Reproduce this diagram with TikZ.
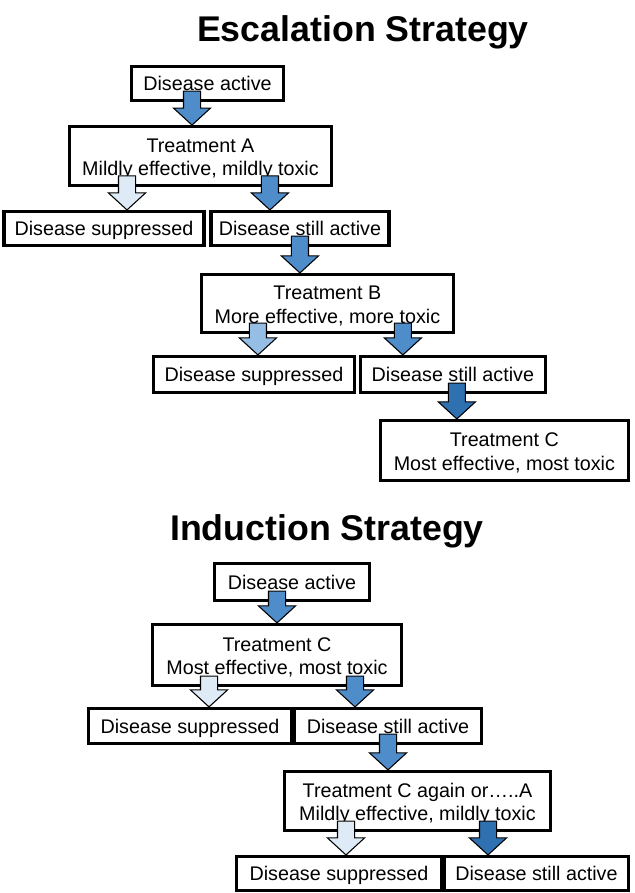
\documentclass[tikz,border=0pt]{standalone}
\usepackage{fontspec}
\setmainfont{Liberation Sans}
\usepackage{tikz}
\usetikzlibrary{calc}
\usetikzlibrary{positioning}
\definecolor{arrowmid}{RGB}{78,140,202}
\definecolor{arrowpale}{RGB}{222,235,247}
\definecolor{arrowlight}{RGB}{150,190,228}
\definecolor{arrowdark}{RGB}{46,112,176}
\tikzset{
    state/.style={
           rectangle,
           draw=black, line width=2.4pt,
           fill=white,
           minimum height=25.5pt,
           inner sep=2pt,
           text centered,
           font=\fontsize{14.8}{17.6}\selectfont,
           },
    outcome/.style={state, text height=10.6pt, text depth=0pt},
    treatment/.style={state, minimum height=44pt},
    heading/.style={font=\fontsize{26.8}{30}\selectfont\bfseries,
           text height=19.2pt, text depth=0pt, inner sep=0pt},
    blockarr/.style={draw=black, line width=0.8pt, line join=miter},
}
% block arrow: fill, from node, to node, x offset from the source centre
\newcommand{\blockarrow}[4]{%
    \draw[blockarr, fill=#1] let \p1=($(#2.south)+(#4,0)$), \p2=(#3.north) in
        (\x1-6.4pt,\y1+8.25pt) -- (\x1+6.4pt,\y1+8.25pt) -- (\x1+6.4pt,\y2+12.75pt)
        -- (\x1+13.9pt,\y2+12.75pt) -- (\x1,\y2) -- (\x1-13.9pt,\y2+12.75pt)
        -- (\x1-6.4pt,\y2+12.75pt) -- cycle;}
% two lines of a treatment box, lowered a little (box size kept)
\newcommand{\twolines}[2]{\raisebox{-2.6pt}[\height][\depth]{\begin{tabular}{@{}c@{}}#1\\#2\end{tabular}}}

\begin{document}
\begin{tikzpicture}
        \useasboundingbox (0,0) rectangle (476.25pt,-669.75pt);

        % ESCALATION STRATEGY
        \node[heading] (ESC_TITLE) at (272.2pt,-21.75pt) {Escalation Strategy};

        \node[outcome, minimum width=114pt] (ESC_ACTIVE) at (155.6pt,-62.6pt)
        {Disease active};

        % TREATMENT A
        \node[treatment,
            minimum width=196.5pt,
            below of=ESC_ACTIVE,
            node distance=54.4pt,
            xshift=-5.25pt,
            anchor=center] (ESC_TREAT_A)
        {\twolines{Treatment A}{Mildly effective, mildly toxic}};

        \node[outcome, minimum width=150pt,
            below of=ESC_TREAT_A, node distance=54.4pt,
            xshift=-72.4pt, anchor=center] (ESC_SUPP_A)
        {Disease suppressed};
        \node[outcome, minimum width=133.5pt,
            below of=ESC_TREAT_A, node distance=54.4pt,
            xshift=74.6pt, anchor=center] (ESC_STILL_A)
        {Disease still active};

        % TREATMENT B
        \node[treatment,
            minimum width=189pt,
            minimum height=43.5pt,
            below of=ESC_STILL_A,
            node distance=56.25pt,
            xshift=20.6pt,
            anchor=center] (ESC_TREAT_B)
        {\twolines{Treatment B}{More effective, more toxic}};

        \node[outcome, minimum width=150.75pt, minimum height=27pt,
            below of=ESC_TREAT_B, node distance=53.25pt,
            xshift=-55.1pt, anchor=center] (ESC_SUPP_B)
        {Disease suppressed};
        \node[outcome, minimum width=138.75pt, minimum height=27pt,
            below of=ESC_TREAT_B, node distance=53.25pt,
            xshift=94.1pt, anchor=center] (ESC_STILL_B)
        {Disease still active};

        % TREATMENT C
        \node[treatment,
            minimum width=186pt,
            minimum height=45pt,
            below of=ESC_STILL_B,
            node distance=57pt,
            xshift=38.6pt,
            anchor=center] (ESC_TREAT_C)
        {\twolines{Treatment C}{Most effective, most toxic}};

        % INDUCTION STRATEGY
        \node[heading] (IND_TITLE) at (245.25pt,-395.6pt) {Induction Strategy};

        \node[outcome, minimum width=116.25pt, minimum height=27.75pt]
            (IND_ACTIVE) at (219pt,-436.5pt)
        {Disease active};

        % TREATMENT C FIRST
        \node[treatment,
            minimum width=186.75pt,
            minimum height=45.75pt,
            below of=IND_ACTIVE,
            node distance=54.75pt,
            xshift=-11.25pt,
            anchor=center] (IND_TREAT_C)
        {\twolines{Treatment C}{Most effective, most toxic}};

        \node[outcome, minimum width=152.25pt, minimum height=26.25pt,
            below of=IND_TREAT_C, node distance=53.25pt,
            xshift=-65.25pt, anchor=center] (IND_SUPP_C)
        {Disease suppressed};
        \node[outcome, minimum width=140.25pt, minimum height=26.25pt,
            below of=IND_TREAT_C, node distance=53.25pt,
            xshift=83.25pt, anchor=center] (IND_STILL_C)
        {Disease still active};

        % TREATMENT C AGAIN OR A
        \node[treatment,
            minimum width=199.5pt,
            minimum height=44.25pt,
            below of=IND_STILL_C,
            node distance=56.25pt,
            xshift=22.1pt,
            anchor=center] (IND_TREAT_CA)
        {\twolines{Treatment C again or…..A}{Mildly effective, mildly toxic}};

        \node[outcome, minimum width=153.75pt,
            below of=IND_TREAT_CA, node distance=54.4pt,
            xshift=-58.9pt, anchor=center] (IND_SUPP_CA)
        {Disease suppressed};
        \node[outcome, minimum width=138pt,
            below of=IND_TREAT_CA, node distance=54.4pt,
            xshift=89.25pt, anchor=center] (IND_STILL_CA)
        {Disease still active};

        % block arrows on top of the boxes
        \blockarrow{arrowmid}{ESC_ACTIVE}{ESC_TREAT_A}{-11.6pt}
        \blockarrow{arrowpale}{ESC_TREAT_A}{ESC_SUPP_A}{-55.1pt}
        \blockarrow{arrowmid}{ESC_TREAT_A}{ESC_STILL_A}{52.1pt}
        \blockarrow{arrowmid}{ESC_STILL_A}{ESC_TREAT_B}{0pt}
        \blockarrow{arrowlight}{ESC_TREAT_B}{ESC_SUPP_B}{-52.1pt}
        \blockarrow{arrowmid}{ESC_TREAT_B}{ESC_STILL_B}{56.6pt}
        \blockarrow{arrowdark}{ESC_STILL_B}{ESC_TREAT_C}{3pt}

        \blockarrow{arrowmid}{IND_ACTIVE}{IND_TREAT_C}{-11.25pt}
        \blockarrow{arrowpale}{IND_TREAT_C}{IND_SUPP_C}{-51pt}
        \blockarrow{arrowmid}{IND_TREAT_C}{IND_STILL_C}{58.5pt}
        \blockarrow{arrowmid}{IND_STILL_C}{IND_TREAT_CA}{0pt}
        \blockarrow{arrowpale}{IND_TREAT_CA}{IND_SUPP_CA}{-53.6pt}
        \blockarrow{arrowdark}{IND_TREAT_CA}{IND_STILL_CA}{52.9pt}
\end{tikzpicture}
\end{document}
